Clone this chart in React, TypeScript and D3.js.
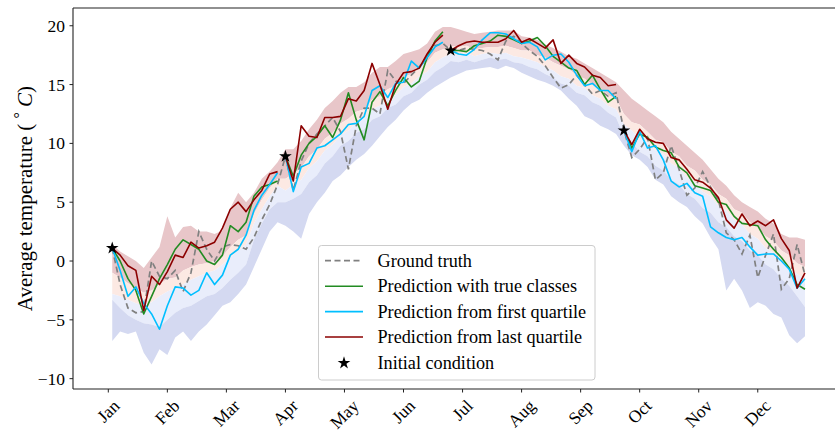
import React, { useMemo } from 'react';
import * as d3 from 'd3';

// ---------- data ----------
const MONTHS = ['Jan', 'Feb', 'Mar', 'Apr', 'May', 'Jun', 'Jul', 'Aug', 'Sep', 'Oct', 'Nov', 'Dec'];
const MONTH_TICK_DAYS = [0, 30, 60, 90, 120, 150, 180, 210, 240, 270, 300, 330];
const Y_TICKS = [-10, -5, 0, 5, 10, 15, 20];

// samples every 4 days starting at day 2
const FIRST_DAY = 2;
const DAY_STEP = 4;
// indices where each forecast restarts from an initial condition
const SEGMENT_STARTS = [0, 22, 43, 65];
const INIT_DAYS = [2, 90, 174, 262];
const INIT_TEMPS = [1.1, 8.9, 17.9, 11.1];

const GROUND_TRUTH = [
  1.1, -2.0, -4.0, -4.4, -4.3, 0.0, -1.3, -1.5, -0.8, -2.6, -1.0, 2.5, 1.0, 0.0, 1.2, 1.4, 1.3, 1.0, 2.0, 3.5, 4.8, 6.5,
  8.9, 6.0, 8.5, 10.0, 10.8, 11.5, 12.2, 11.0, 7.8, 11.5, 13.0, 13.0, 12.5, 16.2, 15.3, 15.1, 15.8, 16.5, 17.4, 18.3, 18.5,
  17.9, 17.9, 18.1, 18.0, 17.9, 17.6, 17.1, 18.7, 19.1, 18.5, 17.9, 17.4, 16.6, 15.6, 14.7, 15.0, 15.8, 15.0, 14.2, 14.5, 14.0, 14.3,
  11.1, 8.8, 9.5, 10.5, 6.9, 7.5, 9.8, 7.8, 5.6, 6.2, 7.6, 6.3, 5.2, 2.4, 1.8, 0.6, 2.2, -1.4, 0.5, 2.3, -2.4, -1.5, 1.4, -1.2,
];

const PRED_TRUE_CLASSES = [
  1.1, 0.0, -1.5, -2.5, -4.5, -3.0, -1.5, -0.3, 1.0, 1.8, 1.4, 1.0, 0.0, -0.3, 0.5, 3.0, 2.5, 3.3, 5.5, 6.3, 6.5, 6.8,
  8.9, 7.2, 9.0, 10.0, 10.6, 11.5, 10.5, 12.0, 14.3, 12.0, 10.3, 13.5, 14.4, 13.2, 14.5, 15.6, 14.8, 15.3, 17.3, 18.7, 19.5,
  17.9, 17.9, 17.8, 18.3, 18.5, 18.7, 19.2, 19.1, 18.8, 18.5, 18.7, 19.0, 18.3, 17.4, 16.9, 16.4, 16.2, 15.0, 15.8, 14.6, 13.5, 14.0,
  11.1, 9.6, 10.8, 10.5, 9.7, 9.4, 9.2, 8.0, 7.5, 6.4, 6.2, 6.0, 5.0, 4.8, 3.8, 3.2, 3.1, 3.0, 1.8, 1.0, 0.3, -0.6, -2.0, -2.4,
];

const PRED_FIRST_QUARTILE = [
  1.1, -0.8, -3.0, -2.2, -3.6, -4.5, -5.8, -3.8, -2.2, -2.3, -2.9, -2.5, -1.0, -2.0, -1.2, 0.5, 1.0, 2.2, 4.3, 5.6, 6.5, 7.5,
  8.9, 5.9, 8.0, 8.3, 9.6, 9.8, 10.3, 10.8, 11.6, 11.7, 12.3, 14.5, 14.9, 13.9, 15.1, 15.2, 17.0, 16.4, 17.3, 18.2, 18.6,
  17.9, 17.6, 17.5, 18.0, 18.8, 19.4, 19.4, 19.3, 18.9, 18.5, 18.6, 18.2, 17.1, 17.5, 17.6, 16.9, 15.8, 14.9, 15.1, 14.5, 14.5, 13.8,
  11.1, 9.3, 11.0, 9.6, 9.8, 8.6, 6.8, 6.3, 6.6, 5.8, 5.5, 2.9, 2.4, 2.0, 1.8, 2.0, 1.2, 0.5, 0.6, 0.6, 0.0, -0.7, -2.3, -1.5,
];

const PRED_LAST_QUARTILE = [
  1.1, 0.5, -0.4, -0.8, -4.2, -1.3, -2.0, -0.9, 0.5, 0.3, 1.6, 1.1, 1.3, 1.6, 2.8, 4.4, 5.0, 4.2, 5.2, 6.0, 7.4, 7.6,
  8.9, 6.8, 11.5, 10.6, 10.5, 12.2, 12.2, 12.3, 13.8, 13.6, 14.5, 16.8, 15.0, 12.9, 15.0, 16.0, 16.1, 16.4, 17.6, 18.6, 19.2,
  17.9, 18.3, 18.6, 18.7, 18.6, 18.6, 18.6, 18.9, 19.6, 18.6, 18.9, 18.5, 18.1, 18.8, 16.8, 17.5, 16.8, 16.5, 15.8, 15.6, 14.9, 15.0,
  11.1, 9.9, 11.2, 10.4, 10.1, 10.0, 8.8, 8.6, 7.8, 6.9, 6.7, 6.2, 5.4, 3.5, 2.8, 4.0, 3.0, 3.4, 3.0, 3.5, 1.9, 0.9, -2.3, -1.0,
];

// shaded spread boundaries, top to bottom
const LASTQ_UPPER = [
  1.4, 0.8, 0.4, 0.0, -0.6, 0.3, 1.2, 3.8, 2.0, 2.9, 3.0, 2.5, 2.5, 2.3, 2.6, 4.5, 5.8, 5.0, 5.8, 7.0, 7.6, 8.4,
  9.5, 9.5, 10.2, 11.2, 12.0, 13.0, 13.6, 14.3, 14.8, 14.8, 15.2, 16.0, 16.5, 16.5, 17.0, 17.6, 17.8, 18.0, 18.5, 19.5, 19.9,
  19.9, 19.7, 19.5, 19.3, 19.4, 19.5, 19.6, 19.6, 19.6, 19.1, 19.0, 18.8, 18.4, 18.1, 17.8, 17.4, 17.2, 16.8, 16.4, 16.0, 15.6, 15.2,
  14.5, 13.8, 13.3, 12.8, 12.3, 11.8, 11.0, 10.4, 9.8, 9.2, 8.6, 7.8, 7.0, 6.4, 5.6, 5.0, 4.6, 4.2, 3.6, 3.2, 2.3, 2.0, 2.0, 1.8,
];
const LASTQ_LOWER = [
  -1.0, -1.4, -1.9, -2.3, -2.7, -2.5, -2.0, -1.5, -1.4, -0.8, -0.5, -0.3, -0.2, 0.0, 0.4, 1.2, 1.8, 2.2, 4.0, 5.2, 6.2, 7.0,
  7.0, 7.4, 7.9, 8.9, 9.5, 10.4, 10.9, 11.7, 12.1, 12.7, 12.9, 13.7, 14.0, 14.6, 14.9, 15.6, 15.9, 16.5, 16.9, 17.7, 18.0,
  18.3, 18.2, 18.3, 18.0, 18.1, 18.2, 18.2, 18.3, 18.1, 17.9, 17.9, 17.5, 17.3, 16.9, 16.6, 16.3, 15.8, 15.5, 15.0, 14.7, 14.1, 13.8,
  12.5, 11.8, 11.6, 11.0, 10.3, 10.1, 9.3, 8.9, 8.1, 7.7, 6.9, 6.5, 5.7, 5.3, 4.4, 4.1, 3.3, 2.9, 2.1, 1.7, 0.9, 0.5, -0.2, -0.5,
];
const SPREAD_MIDDLE = [
  -2.8, -3.0, -3.3, -3.6, -3.8, -3.5, -3.0, -2.6, -2.3, -2.0, -1.6, -1.3, -1.0, -0.8, -0.3, 0.3, 0.9, 1.4, 3.2, 4.4, 5.5, 6.4,
  6.0, 6.5, 6.9, 7.9, 8.5, 9.4, 9.9, 10.7, 11.1, 11.8, 12.1, 12.9, 13.2, 13.8, 14.1, 14.8, 15.1, 15.7, 16.1, 16.9, 17.3,
  17.6, 17.5, 17.7, 17.4, 17.6, 17.7, 17.6, 17.7, 17.4, 17.3, 17.1, 16.9, 16.5, 16.2, 15.7, 15.5, 14.9, 14.7, 14.1, 13.8, 13.2, 12.9,
  11.6, 11.1, 10.4, 10.1, 9.4, 9.1, 8.3, 7.9, 7.1, 6.7, 5.9, 5.5, 4.7, 4.3, 3.5, 3.1, 2.3, 1.9, 1.1, 0.7, -0.1, -0.5, -1.1, -1.6,
];
const FIRSTQ_UPPER = [
  -3.3, -4.0, -4.6, -5.0, -5.3, -5.4, -5.6, -5.0, -4.4, -4.0, -3.8, -3.4, -3.0, -2.8, -2.3, -1.6, -1.0, -0.3, 1.8, 3.2, 4.4, 5.0,
  5.0, 5.3, 5.7, 6.7, 7.3, 8.3, 8.9, 9.8, 10.2, 10.9, 11.2, 12.0, 12.3, 13.0, 13.3, 14.0, 14.3, 15.0, 15.4, 16.1, 16.5,
  17.0, 16.9, 17.1, 16.9, 17.1, 17.3, 17.1, 17.2, 16.9, 16.8, 16.5, 16.3, 15.9, 15.6, 15.1, 14.9, 14.3, 14.1, 13.5, 13.2, 12.6, 12.2,
  10.6, 10.1, 9.3, 8.9, 8.1, 7.7, 6.9, 6.5, 5.7, 5.3, 4.5, 4.1, 3.3, 2.9, 2.1, 1.7, 0.9, 0.5, -0.3, -0.7, -1.5, -2.1, -3.0, -3.9,
];
const FIRSTQ_LOWER = [
  -6.8, -6.0, -6.2, -6.0, -7.8, -8.8, -7.5, -8.0, -6.5, -6.0, -6.8, -6.0, -5.4, -4.6, -3.8, -3.5, -2.8, -2.0, -0.5, 1.0, 2.5, 3.3,
  3.0, 2.5, 1.9, 4.0, 5.0, 5.8, 6.8, 7.3, 8.0, 8.6, 9.1, 9.8, 10.6, 11.4, 12.0, 12.8, 13.4, 13.7, 14.3, 14.8, 15.2,
  15.6, 15.9, 16.2, 16.3, 16.4, 16.5, 16.3, 16.6, 16.4, 16.0, 15.7, 15.4, 15.2, 14.9, 14.5, 13.8, 13.2, 12.3, 12.0, 11.5, 11.2, 10.8,
  9.8, 9.0, 8.6, 8.0, 6.9, 6.5, 5.5, 5.0, 4.6, 3.8, 3.2, 2.0, 1.0, -2.5, -1.5, -2.5, -4.0, -3.5, -3.8, -4.5, -4.8, -6.3, -7.0, -6.4,
];

const LEGEND_LABELS = [
  'Ground truth',
  'Prediction with true classes',
  'Prediction from first quartile',
  'Prediction from last quartile',
  'Initial condition',
];

// ---------- styling ----------
const W = 835;
const H = 432;
const LEFT = 73;
const RIGHT = 841;
const TOP = 8;
const BOTTOM = 389;
const FONT = '"Liberation Serif", "Times New Roman", Times, serif';
const TICK_FONT = 17.5;
const C_GT = '#808080';
const C_TRUE = '#228B22';
const C_FIRST = '#00BFFF';
const C_LAST = '#8B0000';

function measure(text: string, size: number): number {
  const c = document.createElement('canvas').getContext('2d');
  if (!c) return text.length * size * 0.5;
  c.font = `${size}px "Liberation Serif"`;
  return c.measureText(text).width;
}

export default function App() {
  const x = d3.scaleLinear().domain([-17.94, 372.3]).range([LEFT, RIGHT]);
  const y = d3.scaleLinear().domain([-10.88, 21.51]).range([BOTTOM, TOP]);
  const days = GROUND_TRUTH.map((_, i) => FIRST_DAY + i * DAY_STEP);

  const band = (lo: number[], hi: number[]) =>
    d3
      .area<number>()
      .x((d) => x(d))
      .y0((_, i) => y(lo[i]))
      .y1((_, i) => y(hi[i]))(days) || '';

  const line = d3
    .line<[number, number]>()
    .x((d) => x(d[0]))
    .y((d) => y(d[1]));

  const fullLine = (vals: number[]) => line(days.map((d, i) => [d, vals[i]] as [number, number])) || '';

  const segLines = (vals: number[]) =>
    SEGMENT_STARTS.map((s, k) => {
      const e = k + 1 < SEGMENT_STARTS.length ? SEGMENT_STARTS[k + 1] - 1 : vals.length - 1;
      const pts: [number, number][] = [];
      for (let i = s; i <= e; i++) pts.push([days[i], vals[i]]);
      return line(pts) || '';
    });

  const star = d3.symbol(d3.symbolStar, 50)() || '';

  const monthWidths = useMemo(() => MONTHS.map((m) => measure(m, TICK_FONT)), []);

  const legendX = 318.5;
  const legendY = 245.5;
  const rowY = [260.7, 286.2, 311.6, 337.0, 363.0];
  const handleX0 = 325;
  const handleX1 = 363;
  const textX = 377.5;

  return (
    <svg
      width={W}
      height={H}
      style={{ position: 'absolute', left: 0, top: 0, display: 'block', background: '#fff' }}
      fontFamily={FONT}
    >
      <defs>
        <clipPath id="plotclip">
          <rect x={LEFT} y={TOP} width={RIGHT - LEFT} height={BOTTOM - TOP} />
        </clipPath>
      </defs>
      <rect x={0} y={0} width={W} height={H} fill="#fff" />

      <g clipPath="url(#plotclip)">
        {/* spread bands */}
        <path d={band(LASTQ_LOWER, LASTQ_UPPER)} fill="#e8c6c9" />
        <path d={band(SPREAD_MIDDLE, LASTQ_LOWER)} fill="#fce9e3" />
        <path d={band(FIRSTQ_UPPER, SPREAD_MIDDLE)} fill="#e9edfb" />
        <path d={band(FIRSTQ_LOWER, FIRSTQ_UPPER)} fill="#d4d9f1" />

        {/* ground truth */}
        <path d={fullLine(GROUND_TRUTH)} fill="none" stroke={C_GT} strokeWidth={1.7} strokeDasharray="6,3.5" />

        {segLines(PRED_TRUE_CLASSES).map((d, i) => (
          <path key={'g' + i} d={d} fill="none" stroke={C_TRUE} strokeWidth={1.6} strokeLinejoin="round" />
        ))}
        {segLines(PRED_FIRST_QUARTILE).map((d, i) => (
          <path key={'b' + i} d={d} fill="none" stroke={C_FIRST} strokeWidth={1.6} strokeLinejoin="round" />
        ))}
        {segLines(PRED_LAST_QUARTILE).map((d, i) => (
          <path key={'r' + i} d={d} fill="none" stroke={C_LAST} strokeWidth={1.6} strokeLinejoin="round" />
        ))}

        {INIT_DAYS.map((d, i) => (
          <path key={'s' + i} d={star} transform={`translate(${x(d)},${y(INIT_TEMPS[i])})`} fill="#000" />
        ))}
      </g>

      {/* spines */}
      <line x1={LEFT} x2={LEFT} y1={TOP} y2={BOTTOM} stroke="#222" strokeWidth={1.1} />
      <line x1={LEFT} x2={RIGHT} y1={TOP} y2={TOP} stroke="#222" strokeWidth={1.1} />
      <line x1={LEFT} x2={RIGHT} y1={BOTTOM} y2={BOTTOM} stroke="#222" strokeWidth={1.1} />
      <line x1={RIGHT} x2={RIGHT} y1={TOP} y2={BOTTOM} stroke="#222" strokeWidth={1.1} />

      {/* y ticks */}
      {Y_TICKS.map((t) => (
        <g key={'y' + t}>
          <line x1={LEFT - 3.5} x2={LEFT} y1={y(t)} y2={y(t)} stroke="#222" strokeWidth={1} />
          <text x={LEFT - 8} y={y(t)} dy="0.34em" textAnchor="end" fontSize={TICK_FONT} fill="#000">
            {t < 0 ? '\u2212' + Math.abs(t) : String(t)}
          </text>
        </g>
      ))}

      {/* x ticks */}
      {MONTH_TICK_DAYS.map((d, i) => {
        const tx = x(d);
        const cy = 396 + (monthWidths[i] + 19.5) / 2.83;
        return (
          <g key={'x' + i}>
            <line x1={tx} x2={tx} y1={BOTTOM} y2={BOTTOM + 3.5} stroke="#222" strokeWidth={1} />
            <text
              x={tx}
              y={cy}
              dy="0.33em"
              textAnchor="middle"
              fontSize={TICK_FONT}
              fill="#000"
              transform={`rotate(-45,${tx},${cy})`}
            >
              {MONTHS[i]}
            </text>
          </g>
        );
      })}

      {/* y label */}
      <text transform={`translate(25,${(TOP + BOTTOM) / 2}) rotate(-90)`} textAnchor="middle" dy="0.33em" fontSize={21} fill="#000">
        {'Average temperature ( '}
        <tspan fontSize={16} dy="-7">°</tspan>
        <tspan dy="7" fontStyle="italic">{' C'}</tspan>)
      </text>

      {/* legend */}
      <rect x={legendX} y={legendY} width={276.5} height={134.5} rx={3} ry={3} fill="#fff" fillOpacity={0.8} stroke="#cccccc" strokeWidth={1} />
      <line x1={handleX0} x2={handleX1} y1={rowY[0]} y2={rowY[0]} stroke={C_GT} strokeWidth={1.7} strokeDasharray="6,3.5" />
      <line x1={handleX0} x2={handleX1} y1={rowY[1]} y2={rowY[1]} stroke={C_TRUE} strokeWidth={1.6} />
      <line x1={handleX0} x2={handleX1} y1={rowY[2]} y2={rowY[2]} stroke={C_FIRST} strokeWidth={1.6} />
      <line x1={handleX0} x2={handleX1} y1={rowY[3]} y2={rowY[3]} stroke={C_LAST} strokeWidth={1.6} />
      <path d={star} transform={`translate(${(handleX0 + handleX1) / 2},${rowY[4]})`} fill="#000" />
      {LEGEND_LABELS.map((l, i) => (
        <text key={'l' + i} x={textX} y={rowY[i]} dy="0.33em" fontSize={18.2} fill="#000">
          {l}
        </text>
      ))}
    </svg>
  );
}
